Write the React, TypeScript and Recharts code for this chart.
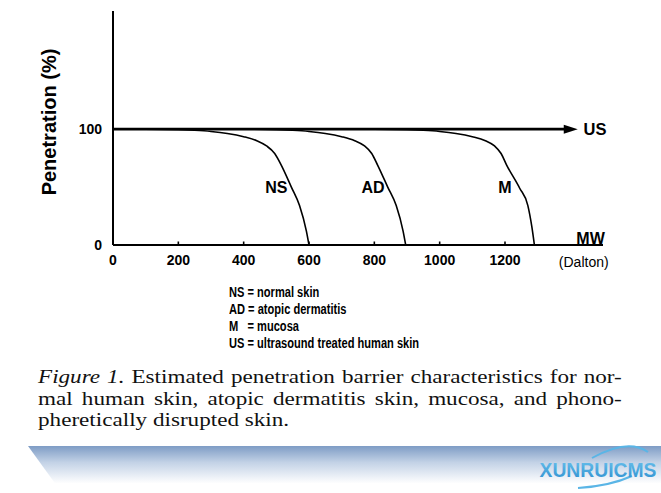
import React from 'react';
import { LineChart, Line, XAxis, YAxis, ReferenceDot } from 'recharts';

// ---- data ----
const xTicks = [0, 200, 400, 600, 800, 1000, 1200];
const yTicks = [0, 100];

const nsMW = [0, 100, 200, 250, 300, 350, 400, 440, 470, 495, 515, 546, 571, 592, 600];
const nsPen = [100, 100, 99.6, 99, 98, 96.3, 93.5, 90, 85.5, 79, 69, 50, 34, 12, 0];

const adMW = [0, 400, 500, 550, 600, 650, 700, 740, 770, 792, 810, 841, 867, 888, 896];
const adPen = [100, 100, 99.6, 99, 98, 96.3, 93.5, 90, 85.5, 79, 69, 50, 34, 12, 0];

const mMW = [0, 800, 900, 950, 1000, 1050, 1100, 1140, 1168, 1188, 1205, 1245, 1270, 1282, 1290];
const mPen = [100, 100, 99.6, 99, 98, 96.3, 93.5, 90, 85.5, 79, 69, 49, 34, 16, 0];

const usMW = [0, 1383];
const usPen = [100, 100];

const curveLabels = ['NS', 'AD', 'M'];
const curveLabelMW = [500, 796, 1200];
const curveLabelPen = [49.6, 49.6, 49.6];

const legendLines = [
  'NS = normal skin',
  'AD = atopic dermatitis',
  'M   = mucosa',
  'US = ultrasound treated human skin',
];

const captionLines = [
  'Estimated penetration barrier characteristics for nor-',
  'mal human skin, atopic dermatitis skin, mucosa, and phono-',
  'pheretically disrupted skin.',
];

const toSeries = (xs: number[], ys: number[]) => xs.map((mw, i) => ({ mw, p: ys[i] }));

const nsData = toSeries(nsMW, nsPen);
const adData = toSeries(adMW, adPen);
const mData = toSeries(mMW, mPen);
const usData = toSeries(usMW, usPen);

const SANS = '"Liberation Sans", Arial, Helvetica, sans-serif';

const XTick = (props: any) => {
  const { x, y, payload } = props;
  const v = payload.value;
  return (
    <g>
      {v !== 0 && <line x1={x} x2={x} y1={y} y2={y - 3.5} stroke="#000" strokeWidth={1.6} />}
      <text x={x} y={y + 20} textAnchor="middle" fontFamily={SANS} fontWeight={700} fontSize={14} fill="#000">
        {v}
      </text>
    </g>
  );
};

const ArrowDot = (props: any) => {
  const { cx, cy, index } = props;
  if (index !== usData.length - 1) return <g key={`d${index}`} />;
  return (
    <polygon
      key={`d${index}`}
      points={`${cx - 1},${cy - 4.5} ${cx + 13},${cy} ${cx - 1},${cy + 4.5}`}
      fill="#000"
    />
  );
};

const YLabel = (p: any) => {
  const vb = p.viewBox || { x: 0, y: 11, width: 113, height: 234 };
  const cx = vb.x + 49;
  const cy = vb.y + vb.height / 2 - 6;
  return (
    <text
      x={cx}
      y={cy}
      transform={`rotate(-90 ${cx} ${cy})`}
      textAnchor="middle"
      dominantBaseline="central"
      fontFamily={SANS}
      fontWeight={700}
      fontSize={20}
      fill="#000"
    >
      Penetration (%)
    </text>
  );
};

export default function App() {
  return (
    <div style={{ position: 'absolute', left: 0, top: 0, width: 661, height: 493, background: '#fff', overflow: 'hidden' }}>
      <LineChart width={661} height={285} margin={{ top: 11, right: 58, bottom: 0, left: 0 }}>
        <XAxis
          type="number"
          dataKey="mw"
          domain={[0, 1500]}
          ticks={xTicks}
          interval={0}
          tick={<XTick />}
          tickLine={false}
          tickSize={0}
          tickMargin={0}
          height={40}
          axisLine={{ stroke: '#000', strokeWidth: 2 }}
          allowDataOverflow
        />
        <YAxis
          type="number"
          dataKey="p"
          domain={[0, 202]}
          ticks={yTicks}
          interval={0}
          tickLine={false}
          tickSize={0}
          tickMargin={11}
          width={113}
          axisLine={{ stroke: '#000', strokeWidth: 2 }}
          tick={{ fill: '#000', fontSize: 14, fontWeight: 700, fontFamily: SANS }}
          label={{ content: YLabel }}
          allowDataOverflow
        />
        <Line data={nsData} dataKey="p" type="monotone" stroke="#000" strokeWidth={1.6} dot={false} activeDot={false} isAnimationActive={false} />
        <Line data={adData} dataKey="p" type="monotone" stroke="#000" strokeWidth={1.6} dot={false} activeDot={false} isAnimationActive={false} />
        <Line data={mData} dataKey="p" type="monotone" stroke="#000" strokeWidth={1.6} dot={false} activeDot={false} isAnimationActive={false} />
        <Line data={usData} dataKey="p" type="linear" stroke="#000" strokeWidth={2.6} dot={<ArrowDot />} activeDot={false} isAnimationActive={false} />
        {curveLabels.map((t, i) => (
          <ReferenceDot
            key={t}
            x={curveLabelMW[i]}
            y={curveLabelPen[i]}
            r={0}
            fill="none"
            stroke="none"
            label={{ value: t, position: 'center', fill: '#000', fontSize: 16, fontWeight: 700, fontFamily: SANS }}
          />
        ))}
        <ReferenceDot
          x={1425}
          y={100}
          r={0}
          fill="none"
          stroke="none"
          label={{ value: 'US', position: 'right', offset: 5, fill: '#000', fontSize: 16.5, fontWeight: 700, fontFamily: SANS }}
        />
        <ReferenceDot
          x={1462}
          y={0}
          r={0}
          fill="none"
          stroke="none"
          label={{ value: 'MW', position: 'top', offset: 1, fill: '#000', fontSize: 16, fontWeight: 700, fontFamily: SANS }}
        />
        <ReferenceDot
          x={1441}
          y={0}
          r={0}
          fill="none"
          stroke="none"
          label={{ value: '(Dalton)', position: 'bottom', offset: 12, fill: '#000', fontSize: 14, fontWeight: 400, fontFamily: SANS }}
        />
      </LineChart>

      <div
        style={{
          position: 'absolute',
          left: 229,
          top: 284,
          fontFamily: SANS,
          fontWeight: 700,
          fontSize: 14.5,
          lineHeight: '17px',
          color: '#000',
          whiteSpace: 'pre',
          transform: 'scaleX(0.765)',
          transformOrigin: '0 0',
        }}
      >
        {legendLines.map((l) => (
          <div key={l}>{l}</div>
        ))}
      </div>

      <div
        style={{
          position: 'absolute',
          left: 38,
          top: 367,
          width: 467,
          fontFamily: '"Liberation Serif", "Times New Roman", serif',
          fontSize: 18.5,
          lineHeight: '21.5px',
          color: '#111',
          transform: 'scaleX(1.25)',
          transformOrigin: '0 0',
        }}
      >
        {captionLines.map((l, i) => (
          <div
            key={i}
            style={{ textAlign: 'justify', textAlignLast: i < captionLines.length - 1 ? 'justify' : 'left', whiteSpace: 'nowrap' as any }}
          >
            {i === 0 && <i>Figure 1. </i>}
            {l}
          </div>
        ))}
      </div>

      <svg width={661} height={493} style={{ position: 'absolute', left: 0, top: 0, pointerEvents: 'none' }}>
        <defs>
          <linearGradient id="band" x1="0" y1="0" x2="0" y2="1">
            <stop offset="0" stopColor="#7e9cc5" />
            <stop offset="0.35" stopColor="#c3d2e6" />
            <stop offset="0.8" stopColor="#ffffff" />
          </linearGradient>
          <linearGradient id="logo" x1="0" y1="0" x2="0" y2="1">
            <stop offset="0" stopColor="#6cc3ee" />
            <stop offset="1" stopColor="#2d8fcf" />
          </linearGradient>
        </defs>
        <polygon points="28,446 661,446 661,493 62,493" fill="url(#band)" />
        <path d="M 592 458 Q 628 438 648 452" stroke="#5ab5e6" strokeWidth={2} fill="none" />
        <path d="M 578 488 Q 610 486 632 476" stroke="#5ab5e6" strokeWidth={2} fill="none" />
        <text x={598} y={477} textAnchor="middle" fontFamily={SANS} fontWeight={700} fontSize={21} fill="url(#logo)" transform="translate(598 0) scale(0.92 1) translate(-598 0)">
          XUNRUICMS
        </text>
      </svg>
    </div>
  );
}
